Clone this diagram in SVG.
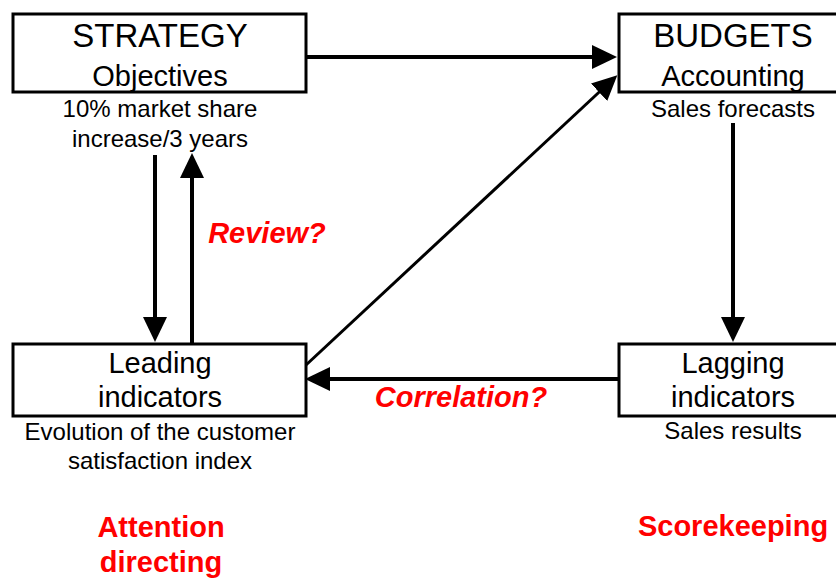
<svg xmlns="http://www.w3.org/2000/svg" width="836" height="579" viewBox="0 0 836 579">
<style>
.box{fill:#fff;stroke:#000;stroke-width:3}
.t{font-family:"Liberation Sans",Arial,Helvetica,sans-serif;fill:#000;text-anchor:middle}
.h{font-size:33px}
.s{font-size:29px}
.n{font-size:24px}
.red{font-family:"Liberation Sans",Arial,Helvetica,sans-serif;fill:#ff0000;font-weight:bold;font-size:29px;text-anchor:middle}
.c{fill:none;stroke:#000;stroke-width:4}
.d{fill:none;stroke:#000;stroke-width:3}
</style>
<defs>
<marker id="ah" markerUnits="userSpaceOnUse" viewBox="0 0 25 24" markerWidth="25" markerHeight="24" refX="15" refY="12" orient="auto">
<path d="M0,0 L25,12 L0,24 z" fill="#000"/>
</marker>
</defs>
<rect width="836" height="579" fill="#fff"/>
<g id="connectors">
<path class="c" d="M306,57 L607,57" marker-end="url(#ah)"/>
<path class="d" d="M306,365 L610,82" marker-end="url(#ah)"/>
<path class="c" d="M733,123 L733,332" marker-end="url(#ah)"/>
<path class="c" d="M619,379 L315,379" marker-end="url(#ah)"/>
<path class="c" d="M155,155 L155,332" marker-end="url(#ah)"/>
<path class="c" d="M192,344 L192,163" marker-end="url(#ah)"/>
</g>
<g id="strategy">
<rect class="box" x="13" y="14" width="293" height="78"/>
<text class="t h" x="160" y="47">STRATEGY</text>
<text class="t s" x="160" y="86">Objectives</text>
<text class="t n" x="160" y="117">10% market share</text>
<text class="t n" x="160" y="147">increase/3 years</text>
</g>
<g id="budgets">
<rect class="box" x="619" y="14" width="234" height="78"/>
<text class="t h" x="733" y="47">BUDGETS</text>
<text class="t s" x="733" y="86">Accounting</text>
<text class="t n" x="733" y="117">Sales forecasts</text>
</g>
<g id="leading">
<rect class="box" x="13" y="344" width="293" height="72"/>
<text class="t s" x="160" y="373">Leading</text>
<text class="t s" x="160" y="407">indicators</text>
<text class="t n" x="160" y="440">Evolution of the customer</text>
<text class="t n" x="160" y="469">satisfaction index</text>
</g>
<g id="lagging">
<rect class="box" x="619" y="344" width="234" height="72"/>
<text class="t s" x="733" y="373">Lagging</text>
<text class="t s" x="733" y="407">indicators</text>
<text class="t n" x="733" y="439">Sales results</text>
</g>
<g id="labels">
<text class="red" x="267" y="243" font-style="italic">Review?</text>
<text class="red" x="461" y="407" font-style="italic">Correlation?</text>
<text class="red" x="161" y="537">Attention</text>
<text class="red" x="161" y="572">directing</text>
<text class="red" x="733" y="536">Scorekeeping</text>
</g>
</svg>
